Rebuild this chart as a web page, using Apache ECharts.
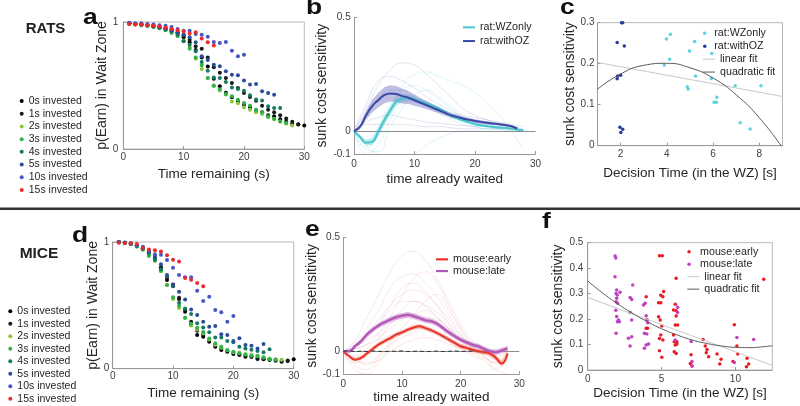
<!DOCTYPE html>
<html><head><meta charset="utf-8">
<script src="https://cdn.jsdelivr.net/npm/echarts@6/dist/echarts.min.js"></script>
<style>html,body{margin:0;padding:0;background:#fff}#c{width:800px;height:406px}</style>
</head><body><div id="c"></div>
<script>
// ---------- DATA ----------
const investLabels = ['0s invested','1s invested','2s invested','3s invested','4s invested','5s invested','10s invested','15s invested'];
// panel a (rats): p(Earn) vs time remaining, x = 1,2,3,...
const ratP0  = [0.99,0.985,0.98,0.972,0.965,0.955,0.945,0.93,0.91,0.88,0.84,0.78,0.72,0.65,0.553,0.494,0.442,0.407,0.375,0.349,0.328,0.302,0.29,0.265,0.257,0.235,0.215,0.197,0.192,0.186];
const ratP1  = [0.99,0.985,0.98,0.975,0.97,0.965,0.955,0.94,0.92,0.895,0.86,0.81,0.79,0.72,0.643,0.6,0.56,0.52,0.48,0.44,0.41,0.38,0.34,0.31,0.29,0.265,0.24,0.215,0.195];
const ratP2  = [0.985,0.98,0.975,0.97,0.96,0.95,0.935,0.915,0.89,0.855,0.8,0.71,0.63,0.56,0.494,0.46,0.43,0.375,0.36,0.328,0.31,0.29,0.276,0.25,0.235,0.215,0.2,0.186];
const ratP3  = [0.985,0.98,0.975,0.97,0.96,0.95,0.935,0.915,0.89,0.85,0.79,0.72,0.66,0.56,0.5,0.47,0.433,0.415,0.388,0.362,0.34,0.31,0.29,0.257,0.239,0.218,0.205];
const ratP4  = [0.99,0.985,0.98,0.975,0.965,0.955,0.94,0.925,0.9,0.848,0.82,0.77,0.685,0.616,0.563,0.56,0.527,0.485,0.472,0.459,0.423,0.389,0.381,0.336,0.323,0.323];
const ratP5  = [0.99,0.985,0.98,0.975,0.97,0.96,0.95,0.935,0.92,0.9,0.88,0.84,0.73,0.7,0.664,0.651,0.612,0.585,0.58,0.54,0.507,0.512,0.454,0.441,0.428];
const ratP10 = [0.995,0.99,0.99,0.985,0.98,0.975,0.97,0.96,0.945,0.932,0.932,0.906,0.9,0.884,0.842,0.835,0.842,0.774,0.73,0.743];
const ratP15 = [0.985,0.98,0.98,0.975,0.97,0.965,0.955,0.945,0.935,0.926,0.91,0.92,0.87,0.84,0.815];
// panel d (mice)
const miceP0  = [1.0,0.995,0.985,0.97,0.95,0.92,0.87,0.8,0.7,0.664,0.55,0.45,0.345,0.266,0.253,0.213,0.174,0.147,0.134,0.116,0.108,0.095,0.095,0.076,0.074,0.068,0.063,0.055,0.06,0.074];
const miceP1  = [1.0,0.995,0.985,0.97,0.95,0.915,0.86,0.79,0.72,0.65,0.56,0.47,0.37,0.3,0.27,0.23,0.19,0.16,0.14,0.125,0.115,0.1,0.095,0.085,0.08,0.075,0.07,0.06,0.065];
const miceP2  = [1.0,0.995,0.985,0.965,0.94,0.9,0.85,0.77,0.66,0.55,0.48,0.4,0.34,0.31,0.28,0.23,0.19,0.165,0.145,0.13,0.125,0.115,0.11,0.1,0.09,0.08,0.075,0.07];
const miceP3  = [1.0,0.995,0.985,0.965,0.94,0.89,0.858,0.774,0.66,0.563,0.497,0.403,0.355,0.324,0.29,0.239,0.2,0.174,0.147,0.134,0.121,0.113,0.103,0.1,0.089,0.074,0.07];
const miceP4  = [1.0,0.995,0.985,0.97,0.945,0.91,0.86,0.784,0.73,0.652,0.52,0.476,0.432,0.358,0.326,0.287,0.247,0.247,0.218,0.208,0.174,0.16,0.15,0.14,0.13,0.153];
const miceP5  = [1.0,0.995,0.99,0.975,0.955,0.93,0.89,0.824,0.74,0.66,0.608,0.547,0.468,0.424,0.371,0.332,0.337,0.271,0.266,0.218,0.24,0.187,0.182,0.16,0.195];
const miceP10 = [1.0,0.995,0.99,0.975,0.963,0.932,0.903,0.9,0.858,0.797,0.74,0.721,0.721,0.616,0.534,0.568,0.463,0.445,0.371,0.416];
const miceP15 = [0.995,0.992,0.99,0.984,0.953,0.94,0.934,0.926,0.895,0.86,0.847,0.716,0.703,0.676,0.65];

// panel b (rats): sunk cost sensitivity vs time already waited
const ratWZx   = [0,1,2,3,4,5,6,7,8,9,10,11,12,13,14,15,16,17,18,19,20,21,22,23,24,25,26,27,28];
const ratWZmean= [0,-0.025,-0.051,-0.047,-0.003,0.048,0.092,0.129,0.144,0.147,0.139,0.13,0.122,0.111,0.1,0.085,0.07,0.058,0.048,0.039,0.031,0.026,0.022,0.019,0.016,0.014,0.012,0.008,0.004];
const ratWZhw  = [0,0.008,0.012,0.015,0.018,0.02,0.02,0.018,0.016,0.014,0.012,0.011,0.01,0.009,0.008,0.007,0.007,0.006,0.006,0.005,0.005,0.005,0.004,0.004,0.004,0.004,0.003,0.003,0.002];
const ratOZx   = [0,1,2,3,4,5,6,7,8,9,10,11,12,13,14,15,16,17,18,19,20,21,22,23,24,25,26,27];
const ratOZmean= [0,0.02,0.07,0.11,0.136,0.158,0.166,0.163,0.154,0.147,0.136,0.125,0.114,0.103,0.092,0.081,0.07,0.063,0.056,0.05,0.045,0.041,0.037,0.034,0.031,0.027,0.022,0.012];
const ratOZhw  = [0,0.01,0.02,0.028,0.032,0.035,0.036,0.035,0.032,0.028,0.024,0.02,0.017,0.015,0.013,0.012,0.011,0.01,0.009,0.008,0.008,0.007,0.007,0.006,0.006,0.006,0.005,0.004];
const thinX = [0,2,4,6,8,10,12,14,16,18,20,22,24,26,28];
const ratWZthin = [
  [0,-0.07,-0.02,0.10,0.20,0.25,0.26,0.24,0.22,0.20,0.17,0.12,0.07,0.0,-0.08],
  [0,-0.10,-0.06,0.05,0.12,0.14,0.12,0.09,0.06,0.04,0.02,0.01,0.01,0.005,0],
  [0,-0.04,0.02,0.12,0.16,0.15,0.12,0.08,0.05,0.03,0.02,0.01,0.01,0,0],
  [0,-0.06,-0.10,-0.12,-0.12,-0.10,-0.06,-0.03,-0.01,0,0,0,0,0,0],
  [0,-0.05,0.00,0.08,0.18,0.20,0.18,0.14,0.10,0.06,0.04,0.03,0.02,0.01,0],
  [0,-0.08,-0.09,0.02,0.10,0.16,0.18,0.15,0.11,0.07,0.04,0.02,0.01,0,0]
];
const ratOZthin = [
  [0,0.10,0.20,0.27,0.30,0.29,0.25,0.20,0.15,0.10,0.07,0.05,0.03,0.02,0.01],
  [0,0.08,0.14,0.18,0.18,0.16,0.13,0.10,0.08,0.06,0.04,0.03,0.02,0.01,0],
  [0,0.03,0.03,0.03,0.03,0.025,0.02,0.02,0.015,0.01,0.01,0.01,0.01,0.01,0],
  [0,0.12,0.22,0.24,0.22,0.19,0.15,0.12,0.09,0.07,0.06,0.05,0.04,0.03,0.02],
  [0,0.04,0.06,0.07,0.06,0.05,0.04,0.035,0.03,0.025,0.02,0.02,0.015,0.01,0]
];

// panel c (rats): sensitivity vs decision time
const cWZx = [3.98,4.15,3.89,4.12,4.98,5.2,5.24,4.88,4.92,5.94,5.92,6.04,6.14,6.16,6.95,7.17,7.6,8.07];
const cWZy = [0.26,0.272,0.197,0.211,0.231,0.254,0.17,0.144,0.138,0.225,0.164,0.106,0.106,0.118,0.146,0.056,0.041,0.146];
const cOZx = [2.04,2.09,1.85,2.16,1.87,1.85,2.0,1.97,2.09,2.01];
const cOZy = [0.3,0.3,0.252,0.243,0.17,0.163,0.172,0.045,0.04,0.032];
const cLinX = [1,9], cLinY = [0.203,0.12];
const cQuadX = [1,2,3,4,5,6,7,8,9];
const cQuadY = [0.138,0.175,0.196,0.201,0.19,0.165,0.124,0.068,-0.005];

// panel e (mice)
const miceX = [0,1,2,3,4,5,6,7,8,9,10,11,12,13,14,15,16,17,18,19,20,21,22,23,24,25,26,27,28];
const lateMean = [0,0,0.022,0.044,0.073,0.095,0.113,0.127,0.139,0.15,0.156,0.161,0.154,0.146,0.136,0.132,0.121,0.102,0.083,0.066,0.051,0.039,0.029,0.022,0.01,0,-0.004,0.004,0.012];
const lateHw   = [0,0.006,0.008,0.01,0.011,0.012,0.012,0.012,0.013,0.013,0.013,0.013,0.013,0.013,0.013,0.012,0.012,0.012,0.012,0.011,0.011,0.011,0.011,0.011,0.011,0.011,0.012,0.012,0.012];
const earlyMean= [0,-0.022,-0.037,-0.029,-0.01,0.01,0.029,0.044,0.058,0.073,0.083,0.095,0.105,0.11,0.102,0.092,0.08,0.066,0.051,0.037,0.022,0.015,0.007,0,-0.004,-0.01,-0.029,-0.054,-0.01];
const earlyHw  = [0,0.006,0.008,0.009,0.01,0.01,0.01,0.01,0.01,0.01,0.01,0.01,0.01,0.01,0.01,0.01,0.01,0.01,0.01,0.01,0.01,0.01,0.01,0.01,0.01,0.011,0.012,0.014,0.012];
const shuffleX = [0,1,2,3,4,5,6,7,8,9,10,11,12,13,14,15,16,17,18,19,20,21,22];
const shuffleY = [0,0.002,-0.002,0.001,-0.001,0.002,0,-0.002,0.001,0,0.002,-0.001,0,0.001,-0.002,0,0.001,-0.001,0,0.002,-0.001,0,0.001];
const earlyThin = [
  [0,-0.05,-0.02,0.05,0.12,0.18,0.22,0.20,0.15,0.10,0.05,0.02,-0.02,-0.05,-0.03],
  [0,-0.08,-0.10,-0.05,0.02,0.08,0.12,0.14,0.12,0.06,0.02,0,-0.02,-0.08,-0.10],
  [0,0.02,0.06,0.12,0.20,0.28,0.30,0.26,0.20,0.12,0.05,0.01,-0.01,0,0],
  [0,-0.03,-0.06,-0.02,0.03,0.06,0.08,0.10,0.08,0.04,0.01,-0.02,-0.04,-0.08,-0.02],
  [0,-0.02,0.01,0.06,0.10,0.14,0.16,0.18,0.15,0.10,0.04,0,-0.01,-0.03,0],
  [0,-0.06,-0.08,-0.03,0.04,0.10,0.16,0.22,0.25,0.18,0.10,0.04,0,-0.04,-0.06],
  [0,0.01,0.03,0.08,0.15,0.24,0.32,0.35,0.30,0.20,0.10,0.03,0,0,0],
  [0,-0.04,-0.05,-0.04,0,0.03,0.05,0.06,0.05,0.03,0.01,-0.01,-0.03,-0.05,-0.04]
];
const lateThin = [
  [0,0.05,0.15,0.25,0.35,0.42,0.44,0.40,0.32,0.22,0.12,0.05,0.02,0,0],
  [0,0.03,0.08,0.14,0.20,0.25,0.27,0.25,0.20,0.14,0.07,0.03,0.01,0,0.01],
  [0,0.02,0.05,0.08,0.12,0.15,0.16,0.15,0.14,0.10,0.06,0.03,0,-0.02,0],
  [0,0.04,0.10,0.18,0.28,0.33,0.34,0.30,0.24,0.16,0.08,0.03,0.01,0,0.01],
  [0,0.01,0.03,0.05,0.07,0.09,0.10,0.10,0.08,0.06,0.03,0.01,0,-0.01,0],
  [0,0.02,0.06,0.12,0.18,0.22,0.22,0.20,0.17,0.12,0.07,0.02,0,0,0]
];

// panel f (mice): sensitivity vs decision time
const fEarlyX = [4.86,5.05,5.99,11.92,9.93,3.96,4.95,5.14,5.09,4.8,4.95,5.93,5.81,5.99,5.99,5.93,6.09,4.8,4.91,4.0,4.05,3.96,5.02,4.95,4.86,5.09,5.81,5.86,6.04,5.93,6.04,5.86,5.99,4.86,5.02,6.95,7.06,7.81,7.96,8.08,8.03,8.19,9.03,8.76,8.94,9.84,10.1,10.16,10.79,10.9,10.75,7.0];
const fEarlyY = [0.449,0.449,0.36,0.356,0.178,0.288,0.294,0.308,0.288,0.264,0.264,0.258,0.236,0.233,0.212,0.177,0.177,0.209,0.196,0.196,0.164,0.164,0.173,0.137,0.124,0.118,0.137,0.111,0.111,0.098,0.102,0.072,0.065,0.076,0.05,0.026,0.016,0.12,0.094,0.081,0.068,0.052,0.042,0.063,0.024,0.033,0.094,0.063,0.046,0.024,0.013,0.06];
const fLateX = [1.85,1.9,1.85,1.96,1.92,2.0,2.19,1.96,1.92,2.03,1.9,1.96,2.08,2.01,2.15,1.92,3.05,2.87,2.98,2.87,2.98,2.76,2.98,2.87,3.78,3.89,3.96,4.02,4.07,3.84,4.0,3.96,4.12,3.84,6.09,6.09,5.93,7.01,7.06,7.06,10.1,9.93,11.24];
const fLateY = [0.448,0.44,0.366,0.314,0.3,0.295,0.305,0.282,0.268,0.262,0.235,0.21,0.196,0.19,0.19,0.144,0.334,0.285,0.277,0.226,0.196,0.125,0.131,0.094,0.255,0.262,0.213,0.197,0.186,0.144,0.141,0.098,0.102,0.085,0.246,0.226,0.118,0.112,0.033,0.016,0.128,0.029,0.12];
const fLinX = [0,12.5], fLinY = [0.285,0.018];
const fQuadX = [0,1,2,3,4,5,6,7,8,9,10,11,12,12.5];
const fQuadY = [0.35,0.303,0.261,0.224,0.191,0.162,0.139,0.119,0.105,0.095,0.089,0.088,0.092,0.095];

// ---------- STYLE ----------
const FONT = '"Liberation Sans", Arial, Helvetica, sans-serif';
const investColors = ['#000000','#1a1a1a','#8cc63f','#2fb34a','#167a62','#2c4c9c','#4656c6','#ec2a2a'];
const C_WZ = '#45c6cf', C_OZ = '#3a48a6', C_EARLY = '#e8322a', C_LATE = '#b45ab8';
const C_LIN = '#c8c8c8', C_QUAD = '#5a5a5a';

function ax(g, min, max, name, gap, margin, t, nfs) {
  const o = {type:'value', gridIndex:g, min:min, max:max, name:name, nameLocation:'middle', nameGap:gap,
    nameTextStyle:{fontSize:nfs||13.5, color:'#262626', fontFamily:FONT},
    axisLine:{show:true, onZero:false, lineStyle:{color:'#9a9a9a', width:1}},
    axisTick:{show:true, inside:true, length:3, lineStyle:{color:'#9a9a9a'}},
    axisLabel:{fontSize:10, color:'#404040', fontFamily:FONT, margin:margin},
    splitLine:{show:false}};
  if (t.interval != null) o.interval = t.interval;
  if (t.custom) { o.axisLabel.customValues = t.custom; o.axisTick.customValues = t.custom; }
  return o;
}
const pairs = (xs, ys) => xs.map((x, i) => [x, ys[i]]);
const idxPairs = arr => arr.map((v, i) => [i + 1, v]);

const series = [];
function scat(name, data, color, g, size, z) {
  series.push({type:'scatter', name:name, xAxisIndex:g, yAxisIndex:g, data:data, symbolSize:size,
    itemStyle:{color:color, opacity:1}, z:z||3, silent:true});
}
function line(name, data, color, g, width, extra) {
  series.push(Object.assign({type:'line', name:name, xAxisIndex:g, yAxisIndex:g, data:data, symbol:'none',
    showSymbol:false, lineStyle:{color:color, width:width}, itemStyle:{color:color}, silent:true, z:4}, extra||{}));
}
function band(id, xs, mean, hw, g, color) {
  series.push({type:'custom', name:id, xAxisIndex:g, yAxisIndex:g, silent:true, z:2, clip:true,
    data:[[xs[0], mean[0]]], encode:{x:0, y:1},
    renderItem:function (params, api) {
      const up = xs.map((x, i) => api.coord([x, mean[i] + hw[i]]));
      const lo = xs.map((x, i) => api.coord([x, mean[i] - hw[i]])).reverse();
      return {type:'polygon', shape:{points:up.concat(lo)}, style:{fill:color, stroke:null}};
    }});
}

// panel a & d scatters
const ratSets = [ratP0, ratP1, ratP2, ratP3, ratP4, ratP5, ratP10, ratP15];
const miceSets = [miceP0, miceP1, miceP2, miceP3, miceP4, miceP5, miceP10, miceP15];
ratSets.forEach((s, k) => scat(investLabels[k], idxPairs(s), investColors[k], 0, 4, 3 + k * 0.01));
miceSets.forEach((s, k) => scat(investLabels[k], idxPairs(s), investColors[k], 3, 4, 3 + k * 0.01));

// panel b
ratWZthin.forEach((s, k) => line('wzthin'+k, pairs(thinX, s), 'rgba(90,205,215,0.3)', 1, 0.7, {smooth:true, z:1}));
ratOZthin.forEach((s, k) => line('ozthin'+k, pairs(thinX, s), 'rgba(120,120,200,0.3)', 1, 0.7, {smooth:true, z:1}));
band('bandWZ', ratWZx, ratWZmean, ratWZhw, 1, 'rgba(110,210,220,0.45)');
band('bandOZ', ratOZx, ratOZmean, ratOZhw, 1, 'rgba(110,110,190,0.45)');
line('rat:WZonly', pairs(ratWZx, ratWZmean), C_WZ, 1, 2, {smooth:true, z:5,
  markLine:{silent:true, symbol:'none', label:{show:false}, lineStyle:{color:'#8c8c8c', width:1, type:'solid'}, data:[{yAxis:0}]}});
line('rat:withOZ', pairs(ratOZx, ratOZmean), C_OZ, 1, 2, {smooth:true, z:5});

// panel c
scat('rat:WZonly ', pairs(cWZx, cWZy), '#5dd3dc', 2, 3.5);
scat('rat:withOZ ', pairs(cOZx, cOZy), '#2a3c9e', 2, 3.5);
line('linear fit', pairs(cLinX, cLinY), C_LIN, 2, 1);
line('quadratic fit', pairs(cQuadX, cQuadY), C_QUAD, 2, 1, {smooth:true});

// panel e
earlyThin.forEach((s, k) => line('ethin'+k, pairs(thinX, s), 'rgba(240,110,90,0.25)', 4, 0.7, {smooth:true, z:1}));
lateThin.forEach((s, k) => line('lthin'+k, pairs(thinX, s), 'rgba(190,120,205,0.25)', 4, 0.7, {smooth:true, z:1}));
band('bandLate', miceX, lateMean, lateHw, 4, 'rgba(205,140,210,0.55)');
band('bandEarly', miceX, earlyMean, earlyHw, 4, 'rgba(245,130,110,0.5)');
line('shuffle', pairs(shuffleX, shuffleY), '#333333', 4, 1, {z:6, lineStyle:{color:'#333', width:1, type:[4,3]}});
line('mouse:early', pairs(miceX, earlyMean), C_EARLY, 4, 2, {smooth:true, z:5,
  markLine:{silent:true, symbol:'none', label:{show:false}, lineStyle:{color:'#8c8c8c', width:1, type:'solid'}, data:[{yAxis:0}]}});
line('mouse:late', pairs(miceX, lateMean), C_LATE, 4, 2.5, {smooth:true, z:5});

// panel f
scat('mouse:early ', pairs(fEarlyX, fEarlyY), '#e81c24', 5, 3.5);
scat('mouse:late ', pairs(fLateX, fLateY), '#c040c0', 5, 3.5);
line('linear fit', pairs(fLinX, fLinY), C_LIN, 5, 1);
line('quadratic fit', pairs(fQuadX, fQuadY), C_QUAD, 5, 1, {smooth:true});

const legTxt = (lh, fs) => ({fontSize:fs||10.7, color:'#262626', fontFamily:FONT, lineHeight:lh});
const leg = (o) => Object.assign({orient:'vertical', padding:0, itemGap:0, selectedMode:false}, o);
const legends = [
  leg({left:19.7, top:94.7, itemWidth:4, itemHeight:4, icon:'circle', data:investLabels, textStyle:legTxt(12.7, 10.5)}),
  leg({left:8.3, top:305, itemWidth:4, itemHeight:4, icon:'circle', data:investLabels, textStyle:legTxt(12.5, 10.5)}),
  leg({left:463, top:20.5, itemWidth:12, itemHeight:2, icon:'rect', data:['rat:WZonly','rat:withOZ'], textStyle:legTxt(13.7)}),
  leg({left:703, top:26.9, itemWidth:9, itemHeight:3.5, icon:'circle', data:['rat:WZonly ','rat:withOZ '], textStyle:legTxt(12.9)}),
  leg({left:703, top:52.7, itemWidth:12, itemHeight:1, icon:'rect', data:['linear fit','quadratic fit'], textStyle:legTxt(12.9)}),
  leg({left:436, top:253.5, itemWidth:12, itemHeight:2.2, icon:'rect', data:['mouse:early','mouse:late'], textStyle:legTxt(11.7)}),
  leg({left:687.3, top:245.4, itemWidth:12, itemHeight:3.5, icon:'circle', data:['mouse:early ','mouse:late '], textStyle:legTxt(12.5)}),
  leg({left:687.3, top:270.4, itemWidth:12, itemHeight:1, icon:'rect', data:['linear fit','quadratic fit'], textStyle:legTxt(12.5)})
];

const letter = (t, x, y) => ({type:'text', x:x, y:y, scaleX:1.2, style:{text:t, fill:'#111', fontSize:22, fontWeight:'bold', fontFamily:FONT, verticalAlign:'middle', align:'left'}});

const option = {
  animation:false,
  backgroundColor:'#ffffff',
  grid:[
    {left:123.3, top:22, width:181, height:127, show:true, borderColor:'#b8b8b8', borderWidth:1},
    {left:354, top:17.3, width:181.5, height:136.7},
    {left:597.5, top:22.7, width:185, height:123, show:true, borderColor:'#b8b8b8', borderWidth:1},
    {left:112.7, top:242, width:181, height:126.7, show:true, borderColor:'#b8b8b8', borderWidth:1},
    {left:343.3, top:237.7, width:176, height:136.3},
    {left:587.7, top:242.7, width:184.6, height:127.3, show:true, borderColor:'#b8b8b8', borderWidth:1}
  ],
  xAxis:[
    ax(0, 0, 30, 'Time remaining (s)', 18, 3, {interval:10}),
    ax(1, 0, 30, 'time already waited', 18, 5, {interval:10}),
    ax(2, 1, 9, 'Decision Time (in the WZ) [s]', 21, 3.5, {custom:[2,4,6,8]}),
    ax(3, 0, 30, 'Time remaining (s)', 18, 3, {interval:10}),
    ax(4, 0, 30, 'time already waited', 16, 5, {interval:10}),
    ax(5, 0, 12.5, 'Decision Time (in the WZ) [s]', 16.5, 4, {custom:[0,5,10]})
  ],
  yAxis:[
    ax(0, 0, 1, 'p(Earn) in Wait Zone', 8, 5, {interval:1}, 14),
    ax(1, -0.1, 0.5, 'sunk cost sensitivity', 21.7, 3.3, {custom:[-0.1,0,0.5]}, 14),
    ax(2, 0, 0.3, 'sunk cost sensitivity', 17, 3, {interval:0.1}, 14),
    ax(3, 0, 1, 'p(Earn) in Wait Zone', 5, 3.4, {interval:1}, 14),
    ax(4, -0.1, 0.5, 'sunk cost sensitivity', 20.6, 3.3, {custom:[-0.1,0,0.5]}, 14),
    ax(5, 0, 0.5, 'sunk cost sensitivity', 16.7, 4.4, {interval:0.1}, 14)
  ],
  legend:legends,
  graphic:[
    {type:'line', shape:{x1:0, y1:208.7, x2:800, y2:208.7}, style:{stroke:'#333', lineWidth:2.6}},
    {type:'text', x:45.5, y:29, style:{text:'RATS', fill:'#222', fontSize:15, fontWeight:'bold', fontFamily:FONT, align:'center', verticalAlign:'middle'}},
    {type:'text', x:39, y:253.3, style:{text:'MICE', fill:'#222', fontSize:15.5, fontWeight:'bold', fontFamily:FONT, align:'center', verticalAlign:'middle'}},
    letter('a', 83, 18.3), letter('b', 306, 8.3), letter('c', 560, 8.3),
    letter('d', 72, 236.3), letter('e', 305, 229.6), letter('f', 542, 222.3)
  ],
  series:series
};
const chart = echarts.init(document.getElementById('c'), null, {renderer:'canvas'});
chart.setOption(option);
</script></body></html>
